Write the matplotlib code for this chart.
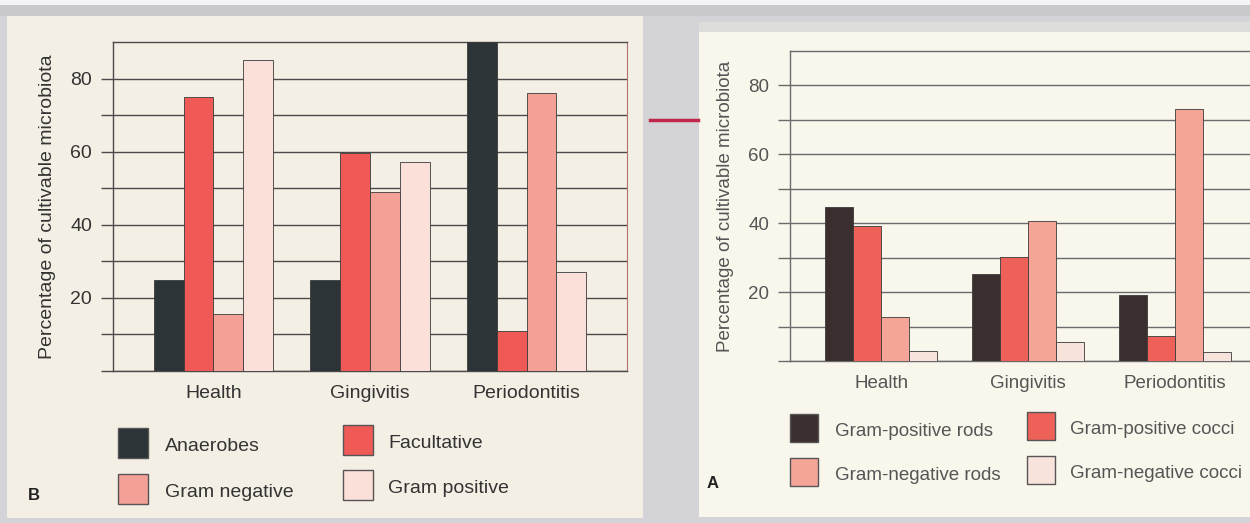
import matplotlib.pyplot as plt
from matplotlib.patches import Rectangle
import numpy as np

plt.rcParams["font.family"] = ["Liberation Sans", "DejaVu Sans"]

# -- Data -------------------------------------------------------------------
categories = ["Health", "Gingivitis", "Periodontitis"]

# Panel B (left)
b_series = ["Anaerobes", "Facultative", "Gram negative", "Gram positive"]
b_anaerobes = [25, 25, 90]
b_facultative = [75, 59.5, 11]
b_gram_neg = [15.5, 49, 76]
b_gram_pos = [85, 57.3, 27]

# Panel A (right)
a_series = ["Gram-positive rods", "Gram-positive cocci",
            "Gram-negative rods", "Gram-negative cocci"]
a_gp_rods = [44.7, 25.3, 19.2]
a_gp_cocci = [39.2, 30.1, 7.2]
a_gn_rods = [12.7, 40.6, 73.3]
a_gn_cocci = [3, 5.5, 2.6]

b_colors = ["#2d3437", "#ef5a57", "#f3a097", "#fae0d8"]
a_colors = ["#3a2f2e", "#ee6159", "#f4a598", "#f7e3db"]

W, H = 1250, 523
fig = plt.figure(figsize=(W / 100, H / 100), dpi=100)
fig.patch.set_facecolor("#d4d4d8")


def px_rect(x0, y0, x1, y1):
    return [x0 / W, 1 - y1 / H, (x1 - x0) / W, (y1 - y0) / H]


def bg(x0, y0, x1, y1, color):
    r = px_rect(x0, y0, x1, y1)
    fig.add_artist(Rectangle((r[0], r[1]), r[2], r[3], transform=fig.transFigure,
                             facecolor=color, edgecolor="none", zorder=0))


# backgrounds (photo of two textbook panels)
bg(0, 0, W, 5, "#f4f4f6")
bg(0, 5, W, 16, "#c9c8cb")
bg(7, 16, 643, 518, "#f4efe4")
bg(699, 22, W, 32, "#dcdcd8")
bg(699, 32, W, 517, "#f9f6ec")
fig.add_artist(plt.Line2D([650 / W, 698 / W], [1 - 120 / H] * 2, transform=fig.transFigure,
                          color="#c0274a", lw=2.5))


def draw_panel(rect, series_vals, colors, xlim, text_color, grid_color, fs, right_spine):
    ax = fig.add_axes(px_rect(*rect))
    ax.set_facecolor("none")
    x = np.arange(len(categories))
    w = 0.19
    for i, (vals, c) in enumerate(zip(series_vals, colors)):
        ax.bar(x + (i - 1.5) * w, vals, w, color=c, edgecolor="#3a3a3a",
               linewidth=0.6, zorder=3)
    ax.set_ylim(0, 90)
    ax.set_xlim(*xlim)
    ax.set_yticks(np.arange(0, 90, 10))
    ax.set_yticklabels(["" if v % 20 or v == 0 else str(v) for v in range(0, 90, 10)],
                       fontsize=fs, color=text_color)
    ax.tick_params(axis="y", length=9, width=1, color=grid_color, pad=6)
    ax.grid(axis="y", color=grid_color, linewidth=1, zorder=1)
    ax.set_xticks(x)
    ax.set_xticklabels(categories, fontsize=fs, color=text_color)
    ax.tick_params(axis="x", length=0, pad=10)
    for s in ["left", "top", "bottom"]:
        ax.spines[s].set_color(grid_color)
        ax.spines[s].set_linewidth(1)
    ax.spines["right"].set_visible(right_spine)
    ax.spines["right"].set_color("#b07070")
    ax.set_ylabel("Percentage of cultivable microbiota", fontsize=fs,
                  color=text_color, labelpad=10)
    return ax


draw_panel((113, 42, 627, 371),
           [b_anaerobes, b_facultative, b_gram_neg, b_gram_pos],
           b_colors, (-0.64, 2.64), "#333333", "#4a4a4a", 14, True)
draw_panel((790, 51, 1250, 361),
           [a_gp_rods, a_gp_cocci, a_gn_rods, a_gn_cocci],
           a_colors, (-0.62, 2.51), "#555555", "#6a6a6a", 13.5, False)


def legend(labels, colors, boxes, text_color, size, fs):
    for lab, c, (bx, by, tx) in zip(labels, colors, boxes):
        r = px_rect(bx, by, bx + size, by + size)
        fig.add_artist(Rectangle((r[0], r[1]), r[2], r[3], transform=fig.transFigure,
                                 facecolor=c, edgecolor="#555", linewidth=1, zorder=2))
        fig.text(tx / W, 1 - (by + size * 0.62) / H, lab, fontsize=fs,
                 color=text_color, va="center", ha="left")


legend(b_series, b_colors,
       [(118, 428, 165), (343, 425, 388), (118, 474, 165), (343, 470, 388)],
       "#333333", 30, 14)
legend(a_series, a_colors,
       [(790, 414, 835), (1027, 412, 1070), (790, 458, 835), (1027, 456, 1070)],
       "#555555", 28, 13.5)

fig.text(28 / W, 1 - 495 / H, "B", fontsize=12, fontweight="bold", color="#222",
         va="center")
fig.text(707 / W, 1 - 483 / H, "A", fontsize=12, fontweight="bold", color="#222",
         va="center")

fig.savefig("out.png", dpi=100, facecolor=fig.get_facecolor())
